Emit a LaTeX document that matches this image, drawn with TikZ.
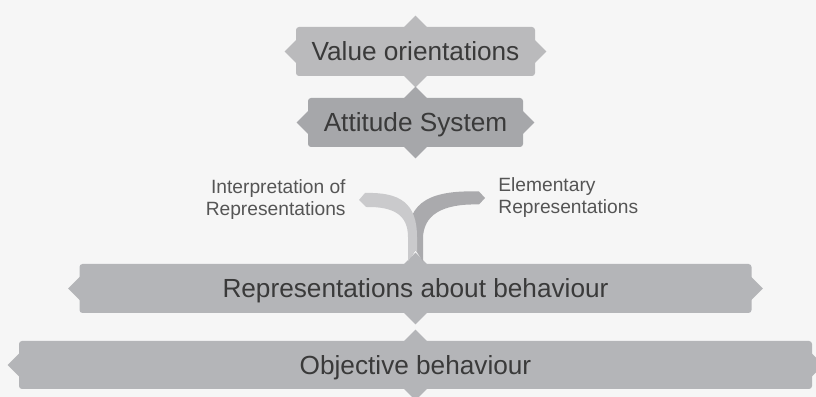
\documentclass[tikz,border=0pt]{standalone}
\usepackage{fontspec}
\setmainfont{Liberation Sans}
\usepackage{tikz}
\usetikzlibrary{positioning}

\definecolor{bgcol}{RGB}{246,246,246}
\definecolor{boxcol}{RGB}{180,181,184}
\definecolor{valcol}{RGB}{186,186,188}
\definecolor{attcol}{RGB}{166,167,170}
\definecolor{txtcol}{RGB}{58,58,58}
\definecolor{lblcol}{RGB}{85,85,85}
\definecolor{lightarm}{RGB}{202,202,204}
\definecolor{darkarm}{RGB}{170,170,173}

\tikzset{
    stage/.style={rectangle, rounded corners=1.5pt, inner sep=0pt, minimum height=24.5pt,
        text=txtcol, text height=9.3pt, text depth=0pt, font=\fontsize{13.1}{15}\selectfont},
    lbl/.style={text=lblcol, inner sep=0pt, font=\fontsize{9.6}{11}\selectfont}
}

% small points on the four sides of a stage
\newcommand{\notches}[2]{%
    \fill[#2] ([xshift=-6pt,yshift=-0.5pt]#1.north) -- ([yshift=5.5pt]#1.north) -- ([xshift=6pt,yshift=-0.5pt]#1.north) -- cycle
        ([xshift=-6pt,yshift=0.5pt]#1.south) -- ([yshift=-5.5pt]#1.south) -- ([xshift=6pt,yshift=0.5pt]#1.south) -- cycle
        ([xshift=0.5pt,yshift=6pt]#1.west) -- ([xshift=-5.5pt]#1.west) -- ([xshift=0.5pt,yshift=-6pt]#1.west) -- cycle
        ([xshift=-0.5pt,yshift=6pt]#1.east) -- ([xshift=5.5pt]#1.east) -- ([xshift=-0.5pt,yshift=-6pt]#1.east) -- cycle;}

\begin{document}
\begin{tikzpicture}[x=0.5pt, y=0.5pt]
    % Background
    \fill[bgcol] (0,0) rectangle (816,397);
    \useasboundingbox (0,0) rectangle (816,397);

    % Stages
    \node[stage, fill=valcol, minimum width=119.5pt] (val) at (415.5,345.5) {Value orientations};
    \node[stage, fill=attcol, minimum width=107.5pt] (att) at (415.5,274.5) {Attitude System};
    \node[stage, fill=boxcol, minimum width=336pt] (rep) at (415.5,108.5) {Representations about behaviour};
    \node[stage, fill=boxcol, minimum width=396.5pt, minimum height=24pt] (obj) at (415.5,32) {Objective behaviour};
    \notches{val}{valcol}
    \notches{att}{attcol}
    \notches{rep}{boxcol}
    \notches{obj}{boxcol}

    % Fork above the representations
    \coordinate (tipL) at (359,197);
    \coordinate (tipR) at (485,199);
    \fill[darkarm] (tipR) -- (479,205.5) .. controls (432,207) and (408,196) .. (408,160)
        -- (408,135.5) -- (415.5,147) -- (423,135.5) -- (423,158)
        .. controls (423,182) and (442,193.5) .. (479,192.5) -- cycle;
    \fill[lightarm] (tipL) -- (365,204) .. controls (400,205) and (417,194) .. (417,160)
        -- (417,144.7) -- (415.5,147) -- (408,135.5) -- (408,160)
        .. controls (408,182) and (394,190.5) .. (366,190) -- cycle;

    % Labels
    \node[lbl, align=right, left=6.5pt of tipL] (interp) {Interpretation of\\Representations};
    \node[lbl, align=left, right=6.5pt of tipR] (elem) {Elementary\\Representations};
\end{tikzpicture}
\end{document}
